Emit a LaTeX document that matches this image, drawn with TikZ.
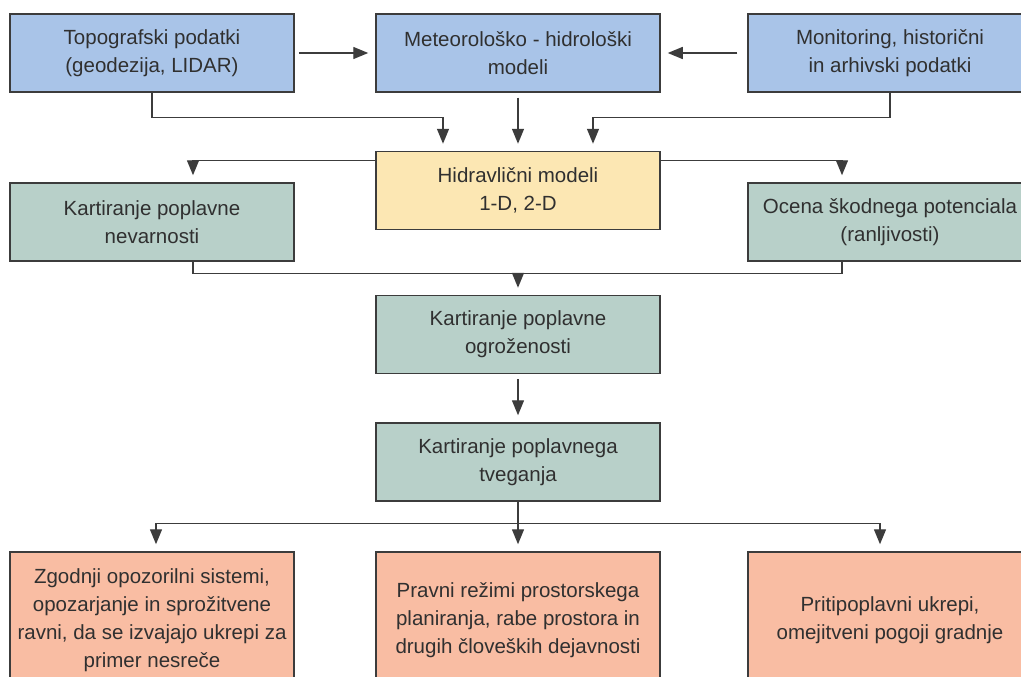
\documentclass[tikz,border=0pt]{standalone}
\usepackage{fontspec}
\setmainfont{Liberation Sans}
\usetikzlibrary{arrows.meta,calc}
\definecolor{bluebox}{HTML}{A9C4E8}
\definecolor{yellowbox}{HTML}{FCE7B3}
\definecolor{greenbox}{HTML}{B8D0C9}
\definecolor{salmonbox}{HTML}{F9BDA3}
\definecolor{edge}{HTML}{3C3C3C}
\definecolor{txt}{HTML}{303030}
\begin{document}
\begin{tikzpicture}[x=1pt,y=-1pt,
  box/.style={draw=edge,line width=1.5pt,minimum width=284pt,minimum height=78pt,
    align=center,inner sep=0pt,text=txt,font=\fontsize{20.5}{28}\selectfont},
  blue/.style={box,fill=bluebox},
  yel/.style={box,fill=yellowbox},
  grn/.style={box,fill=greenbox},
  sal/.style={box,fill=salmonbox,minimum height=136pt},
  arr/.style={draw=edge,line width=1.4pt,-{Triangle[length=15pt,width=12pt]},shorten >=7pt},
  ln/.style={draw=edge,line width=1.4pt}]
\useasboundingbox[fill=white] (0,0) rectangle (1021,677);
\node[blue] (topo) at (152,53) {Topografski podatki\\(geodezija, LIDAR)};
\node[blue] (met) at (518,53) {Meteorološko - hidrološki\\modeli};
\node[blue] (mon) at (890,53) {Monitoring, historični\\in arhivski podatki};
\node[yel] (hidr) at (518,190.5) {Hidravlični modeli\\1-D, 2-D};
\node[grn] (kpn) at (152,222) {Kartiranje poplavne\\nevarnosti};
\node[grn] (oc) at (890,222) {Ocena škodnega potenciala\\(ranljivosti)};
\node[grn] (ogr) at (518,334.5) {Kartiranje poplavne\\ogroženosti};
\node[grn] (tv) at (518,462) {Kartiranje poplavnega\\tveganja};
\node[sal] (b1) at (152,620) {Zgodnji opozorilni sistemi,\\opozarjanje in sprožitvene\\ravni, da se izvajajo ukrepi za\\primer nesreče};
\node[sal] (b2) at (518,620) {Pravni režimi prostorskega\\planiranja, rabe prostora in\\drugih človeških dejavnosti};
\node[sal] (b3) at (890,620) {Pritipoplavni ukrepi,\\omejitveni pogoji gradnje};

\draw[arr,shorten <=4pt] (topo) -- (met);
\draw[arr,shorten <=10pt] (mon) -- (met);
\draw[arr] (topo.south) -- ++(0,25) -| ([xshift=-75pt]hidr.north);
\draw[arr,shorten <=5pt] (met) -- (hidr);
\draw[arr] (mon.south) -- ++(0,25) -| ([xshift=75pt]hidr.north);
\draw[arr] ([yshift=30pt]hidr.west) -| ([xshift=41pt]kpn.north);
\draw[arr] ([yshift=30pt]hidr.east) -| ([xshift=-48pt]oc.north);
\draw[arr] ([xshift=41pt]kpn.south) -- ++(0,12) -| (ogr.north);
\draw[ln] ([xshift=-48pt]oc.south) -- ++(0,12) -| ([yshift=10pt]ogr.north);
\draw[arr,shorten <=5pt] (ogr) -- (tv);
\draw[arr] (tv.south) -- (b2.north);
\draw[arr] (tv.south) -- ++(0,22) -| ([xshift=4pt]b1.north);
\draw[arr] (tv.south) -- ++(0,22) -| ([xshift=-10pt]b3.north);
\end{tikzpicture}
\end{document}
